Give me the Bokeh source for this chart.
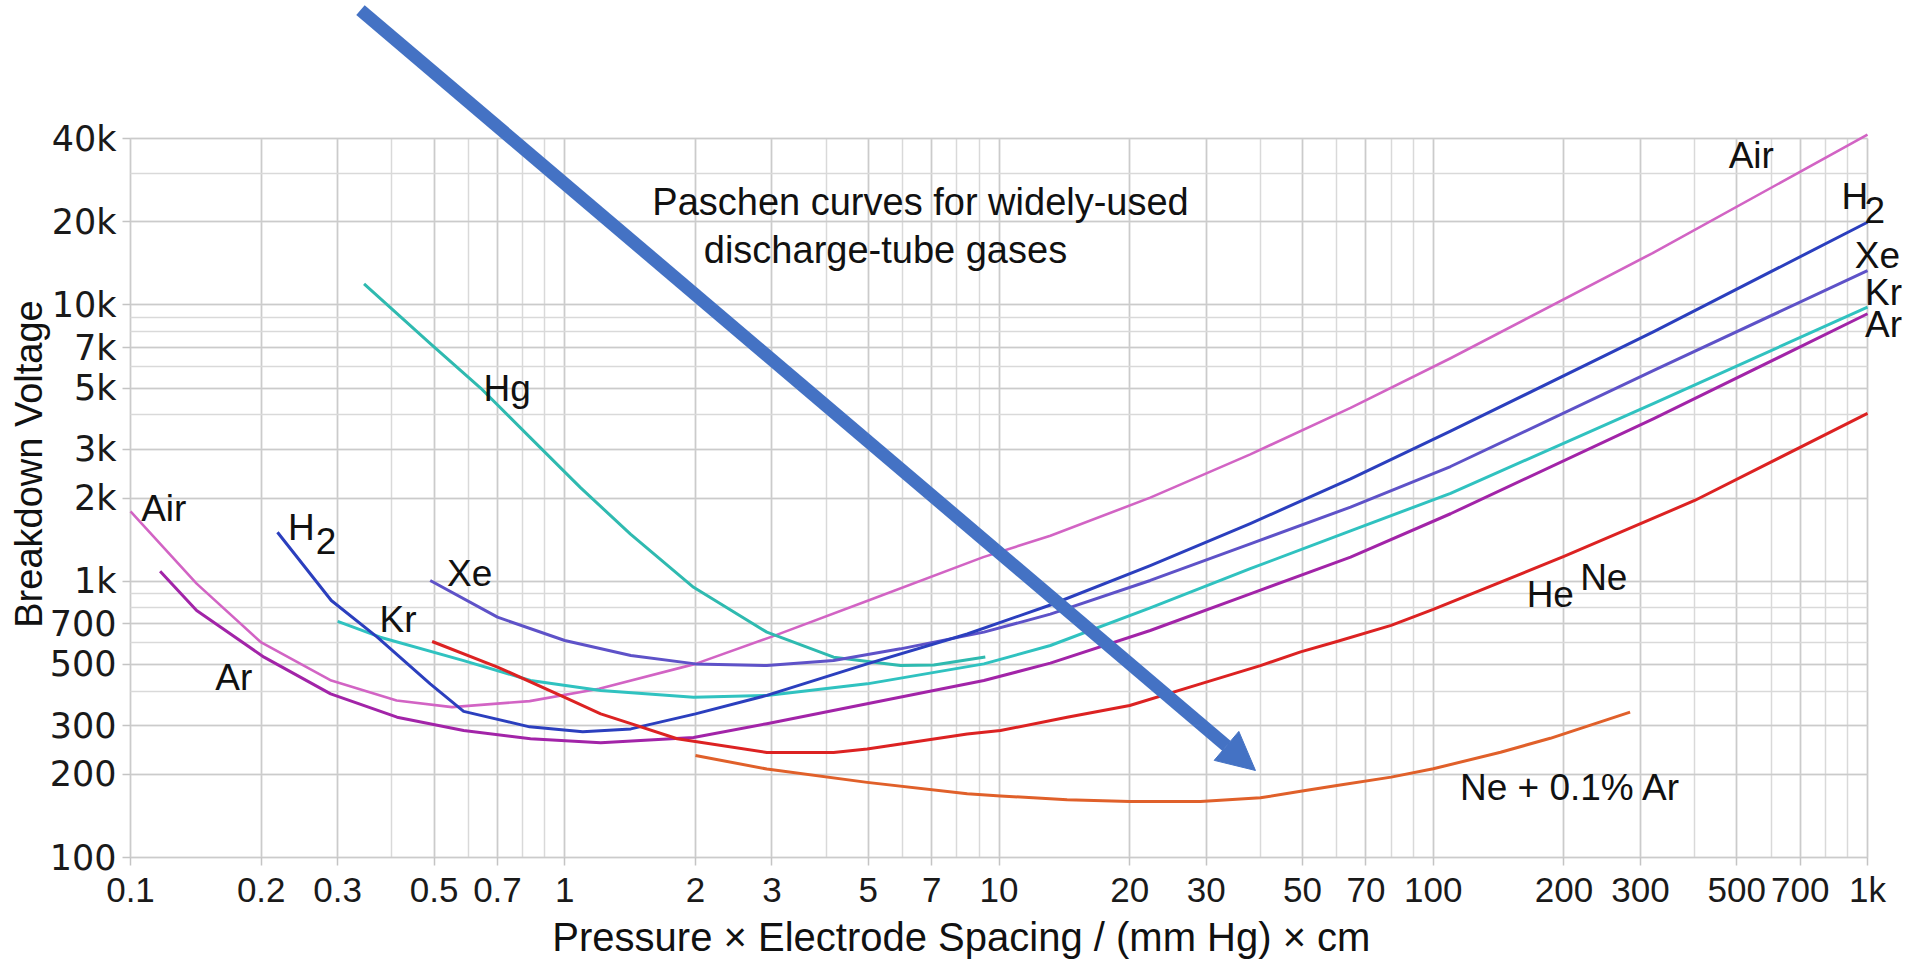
import math
from bokeh.plotting import figure
from bokeh.models import FixedTicker, Label, Arrow, NormalHead
from bokeh.embed import file_html
from bokeh.resources import INLINE

# ---------------- data ----------------
air_x = [0.1, 0.142, 0.2, 0.29, 0.41, 0.55, 0.83, 1.2, 2.0, 3.0, 5.0, 9.2, 13.13, 22.3, 37.9, 64.5, 109.6, 320, 1000]
air_y = [1790, 980, 600, 437, 370, 350, 368, 408, 502, 630, 851, 1222, 1460, 2006, 2877, 4240, 6411, 15400, 41300]

h2_x = [0.218, 0.29, 0.37, 0.49, 0.585, 0.83, 1.1, 1.42, 2.0, 2.92, 4.97, 8.45, 13.13, 22.3, 37.9, 64.5, 109.6, 322, 1000]
h2_y = [1503, 851, 627, 425, 338, 297, 285, 292, 331, 386, 502, 644, 820, 1139, 1616, 2345, 3489, 8000, 19900]

xe_x = [0.49, 0.7, 1.0, 1.42, 2.0, 2.92, 4.16, 5.93, 9.23, 13.13, 22.3, 37.9, 64.5, 109.6, 322, 1000]
xe_y = [1006, 741, 610, 538, 502, 495, 516, 569, 654, 760, 1006, 1365, 1854, 2600, 5788, 13300]

kr_x = [0.3, 0.376, 0.585, 0.834, 1.21, 1.98, 2.92, 4.97, 9.23, 13.13, 22.3, 37.9, 64.5, 109.6, 322, 1000]
kr_y = [715, 627, 516, 437, 402, 380, 386, 425, 502, 585, 800, 1110, 1520, 2080, 4400, 9810]

ar_x = [0.117, 0.142, 0.203, 0.289, 0.411, 0.585, 0.834, 1.21, 1.98, 2.92, 4.97, 9.23, 13.13, 22.3, 37.9, 64.5, 109.6, 322, 1000]
ar_y = [1087, 783, 531, 391, 322, 288, 269, 260, 272, 305, 360, 437, 505, 663, 900, 1222, 1754, 3873, 9285]

hg_x = [0.345, 0.491, 0.64, 0.834, 1.087, 1.417, 1.98, 2.92, 4.16, 5.93, 7.08, 9.3]
hg_y = [11900, 7230, 5000, 3300, 2180, 1480, 950, 654, 531, 495, 497, 532]

hene_x = [0.495, 0.7, 1.0, 1.21, 1.42, 1.815, 2.92, 4.16, 4.97, 8.45, 10.08, 14.35, 20, 29.1, 40, 49.5, 60, 80, 100, 200, 400, 1000]
hene_y = [605, 489, 380, 331, 305, 269, 240, 240, 247, 280, 288, 322, 355, 425, 495, 555, 605, 692, 790, 1230, 1959, 4050]

near_x = [2.0, 2.92, 4.97, 8.45, 10.08, 14.35, 20, 29.1, 40, 49.5, 60, 80, 100, 142.9, 186, 284]
near_y = [234, 209, 187, 170, 167, 161.7, 159.5, 159.5, 164.4, 173.8, 182.3, 195.4, 209.4, 240.5, 270, 336]

x_ticks = [0.1, 0.2, 0.3, 0.5, 0.7, 1, 2, 3, 5, 7, 10, 20, 30, 50, 70, 100, 200, 300, 500, 700, 1000]
x_tick_labels = ["0.1", "0.2", "0.3", "0.5", "0.7", "1", "2", "3", "5", "7", "10", "20", "30",
                 "50", "70", "100", "200", "300", "500", "700", "1k"]
y_ticks = [100, 200, 300, 500, 700, 1000, 2000, 3000, 5000, 7000, 10000, 20000, 40000]
y_tick_labels = ["100", "200", "300", "500", "700", "1k", "2k", "3k", "5k", "7k", "10k", "20k", "40k"]

x_minor = [m * 10.0 ** e for e in range(-1, 3) for m in range(1, 10)] + [1000]
y_minor = [m * 10.0 ** e for e in range(2, 5) for m in range(1, 10) if m * 10 ** e <= 40000]

# curve labels: (text, x, y)
curve_labels = [
    ("Air", 0.1193, 1837),
    ("H", 0.2473, 1564),
    ("2", 0.282, 1403),
    ("Xe", 0.604, 1069),
    ("Kr", 0.413, 728),
    ("Ar", 0.1729, 449),
    ("Hg", 0.737, 4972),
    ("Air", 540, 34600),
    ("H", 935, 24690),
    ("2", 1040, 22090),
    ("Xe", 1054, 15120),
    ("Kr", 1089, 11110),
    ("Ar", 1089, 8490),
    ("He", 186, 894),
    ("Ne", 247, 1031),
    ("Ne + 0.1% Ar", 207, 179.2),
]
title_lines = [("Paschen curves for widely-used", 6.596, 23480),
               ("discharge-tube gases", 5.477, 15820)]
x_title = ("Pressure × Electrode Spacing  /  (mm Hg) × cm", 8.69, 51.75)
y_title = ("Breakdown Voltage", 0.0585, 2655)
arrow_x = [0.3385, 38.96]
arrow_y = [116600, 206.5]

# ---------------- layout: plot area inside a full-canvas frame ----------------
W, H = 1907, 959
AREA_L, AREA_R, AREA_T, AREA_B = 130, 1867, 138, 857
X0, X1, Y0, Y1 = 0.1, 1000, 100, 40000
kx = (AREA_R - AREA_L) / math.log10(X1 / X0)
ky = (AREA_B - AREA_T) / math.log10(Y1 / Y0)
x_start = 10 ** (math.log10(X0) - AREA_L / kx)
x_end = 10 ** (math.log10(X1) + (W - AREA_R) / kx)
y_start = 10 ** (math.log10(Y0) - (H - AREA_B) / ky)
y_end = 10 ** (math.log10(Y1) + AREA_T / ky)

FONT = "Liberation Sans"
TXT = "#111111"
p = figure(width=W, height=H, x_axis_type="log", y_axis_type="log",
           x_range=(x_start, x_end), y_range=(y_start, y_end),
           output_backend="svg", toolbar_location=None,
           min_border=0, min_border_left=0, min_border_right=0,
           min_border_top=0, min_border_bottom=0)
p.background_fill_color = "white"
p.border_fill_color = "white"
p.outline_line_color = None

xt = FixedTicker(ticks=x_ticks, minor_ticks=x_minor)
yt = FixedTicker(ticks=y_ticks, minor_ticks=y_minor)
p.xaxis.ticker = xt
p.yaxis.ticker = yt
p.xaxis.fixed_location = Y0
p.yaxis.fixed_location = X0
p.xaxis.bounds = (X0, X1)
p.yaxis.bounds = (Y0, Y1)
p.xaxis.major_label_overrides = dict(zip(x_ticks, x_tick_labels))
p.yaxis.major_label_overrides = dict(zip(y_ticks, y_tick_labels))

for ax in (p.xaxis, p.yaxis):
    ax.axis_line_color = None
    ax.major_tick_out = 8
    ax.major_tick_in = 0
    ax.minor_tick_out = 0
    ax.minor_tick_in = 0
    ax.major_tick_line_color = "#c4c4c4"
    ax.major_tick_line_width = 1.5
    ax.major_label_text_color = "#1a1a1a"
p.xaxis.major_label_text_font = FONT
p.xaxis.major_label_text_font_size = "35px"
p.xaxis.major_label_standoff = 4
p.yaxis.major_label_text_font = "DejaVu Sans"
p.yaxis.major_label_text_font_size = "35px"
p.yaxis.major_label_standoff = 6

grid_ok = True
try:
    p.xgrid.ticker = xt
    p.ygrid.ticker = yt
    p.xgrid.bounds = (X0, X1)
    p.xgrid.cross_bounds = (Y0, Y1)
    p.ygrid.bounds = (Y0, Y1)
    p.ygrid.cross_bounds = (X0, X1)
    for g in (p.xgrid, p.ygrid):
        g.grid_line_color = "#cbcbcb"
        g.grid_line_width = 1.5
        g.minor_grid_line_color = "#d9d9d9"
        g.minor_grid_line_width = 1.5
except Exception:
    grid_ok = False

if not grid_ok:
    for g in (p.xgrid, p.ygrid):
        g.visible = False
    gx = sorted(set([round(v, 6) for v in x_minor + x_ticks]))
    gy = sorted(set([round(v, 6) for v in y_minor + y_ticks]))
    p.segment(x0=gx, y0=[Y0] * len(gx), x1=gx, y1=[Y1] * len(gx), line_color="#d4d4d4", line_width=1.5)
    p.segment(x0=[X0] * len(gy), y0=gy, x1=[X1] * len(gy), y1=gy, line_color="#d4d4d4", line_width=1.5)

series = [
    (air_x, air_y, "#d264c4", 2.6),
    (hg_x, hg_y, "#2fbab0", 3),
    (kr_x, kr_y, "#30c2c0", 3),
    (xe_x, xe_y, "#5e52c8", 3),
    (h2_x, h2_y, "#2b3fbe", 3),
    (ar_x, ar_y, "#a224a8", 3),
    (hene_x, hene_y, "#dc2222", 3),
    (near_x, near_y, "#e0602a", 3),
]
for xs, ys, col, lw in series:
    p.line(xs, ys, line_color=col, line_width=lw, line_join="round")

for text, lx, ly in curve_labels:
    p.add_layout(Label(x=lx, y=ly, text=text, text_font=FONT, text_font_size="37px",
                       text_align="center", text_baseline="alphabetic", text_color=TXT))

for text, lx, ly in title_lines:
    p.add_layout(Label(x=lx, y=ly, text=text, text_font=FONT, text_font_size="38px",
                       text_align="center", text_baseline="alphabetic", text_color=TXT))

p.add_layout(Label(x=x_title[1], y=x_title[2], text=x_title[0], text_font=FONT,
                   text_font_size="40px", text_align="center", text_baseline="alphabetic",
                   text_color=TXT))
p.add_layout(Label(x=y_title[1], y=y_title[2], text=y_title[0], text_font=FONT,
                   text_font_size="38px", text_align="center", text_baseline="alphabetic",
                   text_color=TXT, angle=math.pi / 2))

BLUE = "#4472C4"
p.add_layout(Arrow(end=NormalHead(size=38, fill_color=BLUE, line_color=BLUE, line_width=1),
                   x_start=arrow_x[0], y_start=arrow_y[0], x_end=arrow_x[1], y_end=arrow_y[1],
                   line_color=BLUE, line_width=13))

open("out.html", "w").write(file_html(p, INLINE))
